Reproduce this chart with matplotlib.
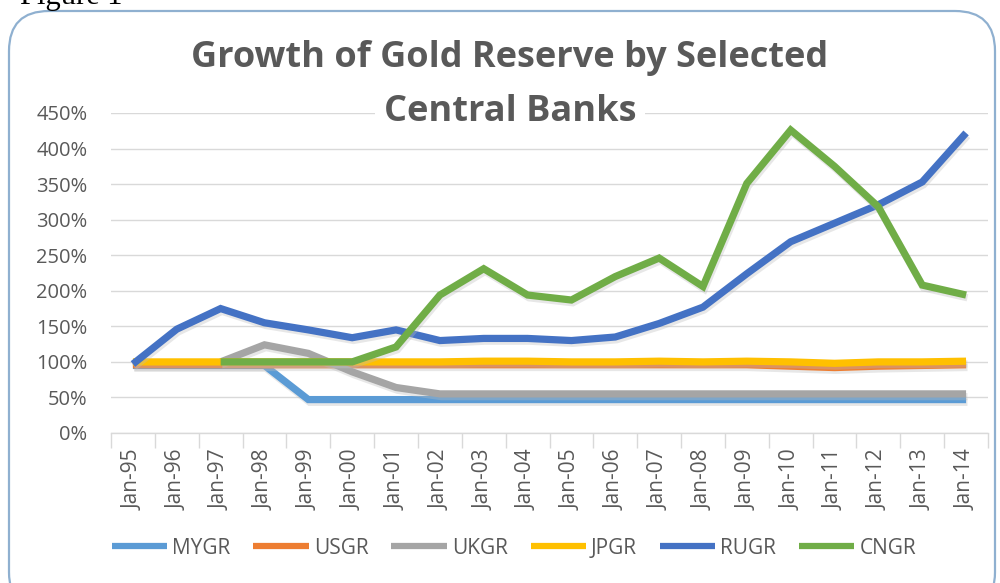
import matplotlib
matplotlib.use("Agg")
import matplotlib.pyplot as plt
import matplotlib.patheffects as pe
from matplotlib.patches import FancyBboxPatch
import numpy as np

# ---- data ----
categories = ["Jan-95", "Jan-96", "Jan-97", "Jan-98", "Jan-99", "Jan-00", "Jan-01",
              "Jan-02", "Jan-03", "Jan-04", "Jan-05", "Jan-06", "Jan-07", "Jan-08",
              "Jan-09", "Jan-10", "Jan-11", "Jan-12", "Jan-13", "Jan-14"]
nan = np.nan
MYGR = [95, 95, 95, 95, 47, 47, 47, 47, 47, 47, 47, 47, 47, 47, 47, 47, 47, 47, 47, 47]
USGR = [96, 96, 96, 96, 96, 96, 96, 96, 96, 96, 96, 96, 96, 96, 96, 94, 92, 94, 95, 96]
UKGR = [nan, nan, 100, 124, 112, 86, 64, 55, 55, 55, 55, 55, 55, 55, 55, 55, 55, 55, 55, 55]
JPGR = [100, 100, 100, 100, 100, 100, 100, 100, 101, 101, 100, 100, 101, 100, 101, 100, 98, 100, 100, 101]
RUGR = [97, 146, 175, 155, 145, 134, 145, 130, 133, 133, 130, 135, 154, 177, 224, 269, 295, 321, 353, 422]
CNGR = [nan, nan, 100, 100, 100, 100, 121, 194, 231, 194, 187, 220, 246, 206, 351, 426, 375, 318, 208, 194]
series_names = ["MYGR", "USGR", "UKGR", "JPGR", "RUGR", "CNGR"]
series_values = [MYGR, USGR, UKGR, JPGR, RUGR, CNGR]
series_colors = ["#5B9BD5", "#ED7D31", "#A5A5A5", "#FFC000", "#4472C4", "#70AD47"]
yticks = [0, 50, 100, 150, 200, 250, 300, 350, 400, 450]

W, H = 1000, 583
fig = plt.figure(figsize=(W / 100, H / 100), dpi=100)
fig.patch.set_facecolor("white")

# chart border (rounded)
border = FancyBboxPatch((9 / W, -0.05), (1000 - 14) / W, (H - 11) / H + 0.05,
                        boxstyle="round,pad=0,rounding_size=0.04",
                        transform=fig.transFigure, facecolor="none",
                        edgecolor="#8FB0D0", linewidth=1.6, zorder=-1, mutation_aspect=W / H)
fig.patches.append(border)

fig.text(20 / W, 1 - 4 / H, "Figure 1", family="Liberation Serif", fontsize=22,
         color="black", ha="left", va="baseline")

ax = fig.add_axes([111 / W, 1 - 433 / H, 877 / W, 320 / H])
ax.set_facecolor("none")
x = np.arange(len(categories))
text_color = "#595959"

for name, vals, col in zip(series_names, series_values, series_colors):
    ax.plot(x, vals, color=col, linewidth=5.2, solid_joinstyle="miter",
            solid_capstyle="butt", label=name, zorder=3,
            path_effects=[pe.SimpleLineShadow(offset=(1, -2), shadow_color="#bbbbbb", alpha=0.35),
                          pe.Normal()])

ax.set_xlim(-0.5, len(categories) - 0.5)
ax.set_ylim(0, 450)
ax.set_yticks(yticks)
ax.set_yticklabels([f"{v}%" for v in yticks], family="Open Sans", fontsize=14.5,
                   color=text_color)
ax.tick_params(axis="y", length=0, pad=17)
ax.grid(axis="y", color="#D9D9D9", linewidth=1.0, zorder=0)
ax.set_axisbelow(True)

ax.set_xticks(x)
ax.set_xticklabels(categories, rotation=90, family="Open Sans", fontsize=15,
                   color=text_color, va="top", ha="center")
ax.tick_params(axis="x", which="major", length=0, pad=12)
ax.set_xticks(np.arange(-0.5, len(categories)), minor=True)
ax.tick_params(axis="x", which="minor", length=11, width=1, color="#D9D9D9",
               direction="out")
for s in ["top", "right", "left"]:
    ax.spines[s].set_visible(False)
ax.spines["bottom"].set_color("#D9D9D9")
ax.spines["bottom"].set_linewidth(1.0)

# legend
handles, labels = ax.get_legend_handles_labels()
leg = fig.legend(handles, labels, loc="center", bbox_to_anchor=(514 / W, 1 - 548 / H),
                 ncol=6, frameon=False, handlelength=2.65, handletextpad=0.25,
                 columnspacing=1.1, prop={"family": "Open Sans", "size": 15})
for t in leg.get_texts():
    t.set_color(text_color)
for lh in leg.get_lines():
    lh.set_linewidth(4.5)
    lh.set_path_effects([])

title_kw = dict(family="Open Sans", fontsize=26, fontweight="bold", color=text_color,
                ha="center", va="center", zorder=5)
fig.text(510 / W, 1 - 58 / H, "Growth of Gold Reserve by Selected", **title_kw)
fig.text(510 / W, 1 - 112 / H, "Central Banks",
         bbox=dict(facecolor="white", edgecolor="none", pad=6), **title_kw)

fig.savefig("out.png", dpi=100, facecolor="white")
